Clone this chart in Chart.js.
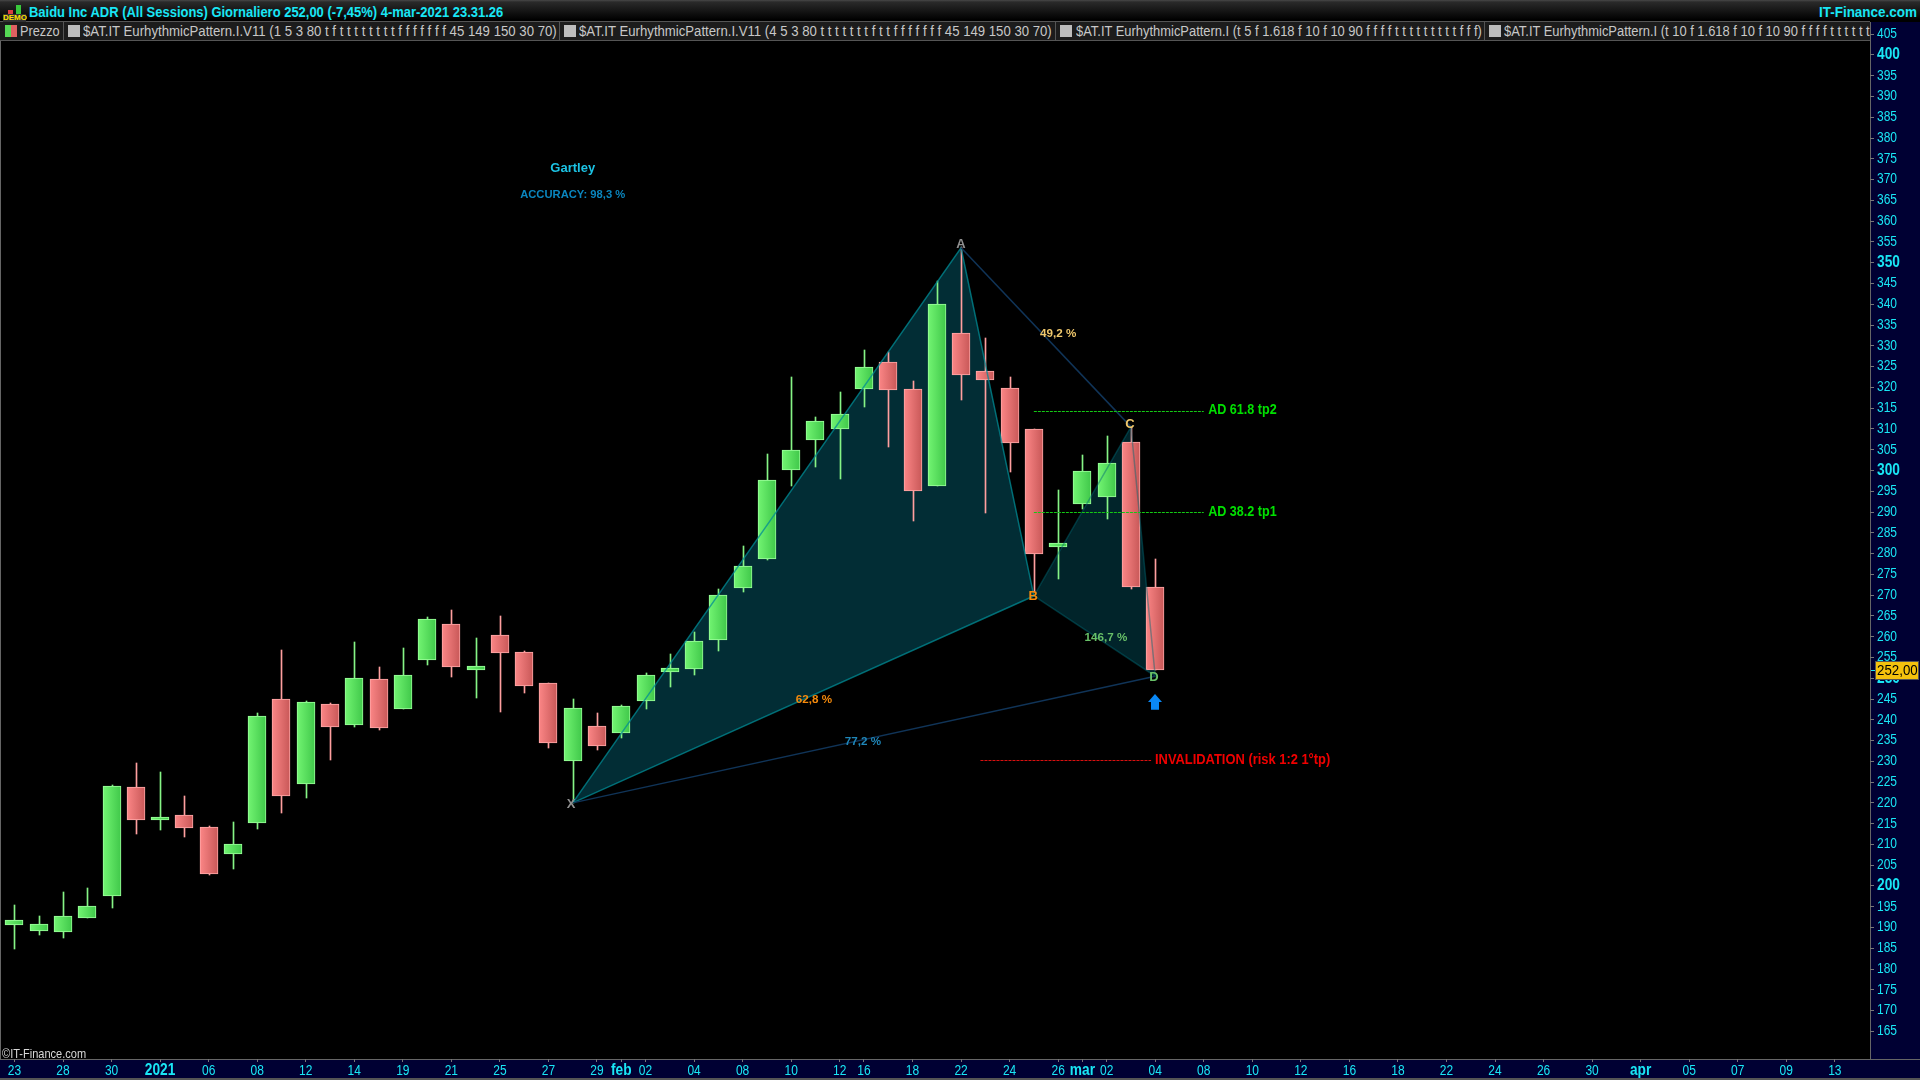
<!DOCTYPE html>
<html>
<head>
<meta charset="utf-8">
<title>Baidu Inc ADR</title>
<script src="https://cdn.jsdelivr.net/npm/chart.js@4/dist/chart.umd.js"></script>
<style>
html,body{margin:0;padding:0;background:#000;width:1920px;height:1080px;overflow:hidden}
body{position:relative;font-family:"Liberation Sans",Arial,sans-serif}
.p{position:absolute}
.t{position:absolute;white-space:nowrap;overflow:hidden;transform-origin:0 0}
.tab{top:22px;font-size:14px;line-height:18px;color:#c8c8c8}
canvas{position:absolute;left:0;top:0}
</style>
</head>
<body>
<div class="p" style="left:0;top:0;width:1920px;height:21px;background:linear-gradient(#484848 0,#2a2a2a 2px,#000 20px)"></div>
<div class="p" style="left:0;top:21px;width:1870px;height:20px;background:#1c1c1c;border-top:1px solid #555;border-bottom:1px solid #555;box-sizing:border-box"></div>
<div class="p" style="left:1870px;top:22px;width:50px;height:1058px;background:#000033;border-left:1px solid #666;box-sizing:border-box"></div>
<div class="p" style="left:0;top:1059px;width:1920px;height:21px;background:#000033;border-top:1px solid #666;border-bottom:2px solid #555;box-sizing:border-box"></div>
<div class="p" style="left:0;top:41px;width:1px;height:1018px;background:#666"></div>

<div class="p" style="left:3px;top:14px;width:23px;height:8px;background:#333"></div>
<div class="p" style="left:16px;top:5px;width:5px;height:9px;background:#39c93c"></div>
<div class="p" style="left:8px;top:10px;width:5px;height:4px;background:#d84040"></div>
<div class="t" style="left:3px;top:13px;font:bold 8px 'Liberation Sans';color:#ffe000;line-height:9px">DEMO</div>

<div class="t fit" data-w="474" style="left:29px;top:4px;font-size:14px;line-height:17px;color:#19e6f5;font-weight:bold">Baidu Inc ADR (All Sessions) Giornaliero 252,00 (-7,45%) 4-mar-2021 23.31.26</div>
<div class="t fit" data-w="98" style="left:1819px;top:3px;font:bold 14px/18px 'Liberation Sans';color:#19e6f5">IT-Finance.com</div>

<div class="p" style="left:5px;top:25px;width:6px;height:12px;background:#55d855"></div>
<div class="p" style="left:11px;top:25px;width:6px;height:12px;background:#e06060"></div>
<div class="t tab fit" data-w="40" style="left:20px">Prezzo</div>
<div class="p" style="left:63px;top:22px;width:1px;height:18px;background:#555"></div>
<div class="p" style="left:68px;top:25px;width:12px;height:12px;background:#bdbdbd"></div>
<div class="t tab fit" data-w="474" style="left:83px">$AT.IT EurhythmicPattern.I.V11 (1 5 3 80 t f t t t t t t t t f f f f f f f 45 149 150 30 70)</div>
<div class="p" style="left:559px;top:22px;width:1px;height:18px;background:#555"></div>
<div class="p" style="left:564px;top:25px;width:12px;height:12px;background:#bdbdbd"></div>
<div class="t tab fit" data-w="473" style="left:579px">$AT.IT EurhythmicPattern.I.V11 (4 5 3 80 t t t t t t t f t t f f f f f f f 45 149 150 30 70)</div>
<div class="p" style="left:1055px;top:22px;width:1px;height:18px;background:#555"></div>
<div class="p" style="left:1060px;top:25px;width:12px;height:12px;background:#bdbdbd"></div>
<div class="t tab fit" id="tab3" data-w="406" style="left:1076px">$AT.IT EurhythmicPattern.I (t 5 f 1.618 f 10 f 10 90 f f f f t t t t t t t t t f f f)</div>
<div class="p" style="left:1484px;top:22px;width:1px;height:18px;background:#555"></div>
<div class="p" style="left:1489px;top:25px;width:12px;height:12px;background:#bdbdbd"></div>
<div class="t tab" id="tab4" style="left:1504px">$AT.IT EurhythmicPattern.I (t 10 f 1.618 f 10 f 10 90 f f f f t t t t t t t t t f f f)</div>

<canvas id="c" width="1920" height="1080"></canvas>
<div class="t fit" data-w="84" style="left:2px;top:1046px;font-size:13px;line-height:15px;color:#d8d8d8">©IT-Finance.com</div>

<script>
// ---- axes ----
const xTickPos = [0,2,4,6,8,10,12,14,16,18,20,22,24,25,26,28,30,32,34,35,37,39,41,43,44,45,47,49,51,53,55,57,59,61,63,65,67,69,71,73,75];
const xTickLabels = ['23','28','30','2021','06','08','12','14','19','21','25','27','29','feb','02','04','08','10','12','16','18','22','24','26','mar','02','04','08','10','12','16','18','22','24','26','30','apr','05','07','09','13'];
const xBoldLabels = ['2021','feb','mar','apr'];
const yTickValues = [165,170,175,180,185,190,195,200,205,210,215,220,225,230,235,240,245,250,255,260,265,270,275,280,285,290,295,300,305,310,315,320,325,330,335,340,345,350,355,360,365,370,375,380,385,390,395,400,405];
const yBoldValues = [200,250,300,350,400];

// ---- price series (one entry per trading day) ----
const barOpen  = [190.7,189.25,189.0,192.4,197.7,223.8,216.0,217.1,214.2,207.8,215.2,245.0,224.6,243.8,238.8,249.8,242.7,254.5,263.1,252.1,260.4,256.3,248.9,230.2,238.5,236.7,244.6,251.6,252.3,259.3,271.8,278.8,300.2,307.4,310.0,319.7,326.1,319.6,296.3,333.1,323.95,319.9,309.9,281.7,292.0,293.5,306.9,272.0];
const barHigh  = [195.4,192.8,198.6,199.5,224.3,229.6,227.4,221.7,214.4,215.4,241.6,256.8,244.5,244.0,258.7,252.7,257.3,264.7,266.4,259.7,265.0,256.6,248.9,245.0,241.6,243.6,251.3,255.8,261.1,271.5,281.8,304.0,322.5,312.9,318.9,329.0,328.5,321.5,345.6,353.9,331.9,322.5,309.9,295.3,303.7,308.3,310.5,278.7];
const barLow   = [184.8,188.3,187.5,192.4,194.8,212.6,213.5,211.8,202.7,204.1,213.7,217.6,221.2,230.3,238.2,237.5,242.7,253.2,250.3,245.2,241.9,246.4,233.2,219.9,232.7,235.6,242.6,247.9,250.8,256.6,270.8,278.5,296.3,300.8,298.0,315.3,305.7,287.8,296.3,317.0,289.8,299.6,270.8,273.9,290.7,288.3,271.5,252.0];
const barClose = [191.8,190.85,192.8,195.2,224.1,216.0,216.6,214.0,203.0,210.1,240.9,221.7,244.3,238.3,250.1,238.1,250.8,264.3,252.8,252.9,256.1,248.2,234.3,242.8,233.8,243.3,250.8,252.5,258.96,270.0,277.0,297.7,304.9,311.9,313.6,324.9,319.4,295.1,340.1,323.0,321.8,306.7,280.0,282.55,299.9,301.8,272.0,252.0];

// ---- harmonic pattern pivots: bar number, price ----
const pivotBars   = {X:23, A:39, B:42, C:46, D:47};
const pivotPrices = {X:220.0, A:353.6, B:269.8, C:310.5, D:250.5};
const lastPrice = 252.0;

// ---- target / stop levels: price, first bar, last bar ----
const adTp2 = {price:314.3, from:42, to:49};
const adTp1 = {price:289.8, from:42, to:49};
const invalidation = {price:230.1, from:39.8, to:46.83};

// ---- text placed on the price chart (bar number, price) ----
const chartNotes = [
 {t:'Gartley', x:23, y:372.8, c:'#1cc3e4', f:'bold 13px "Liberation Sans"', a:'center', s:1},
 {t:'ACCURACY: 98,3 %', x:23, y:366.4, c:'#0a86bf', f:'bold 11px "Liberation Sans"', a:'center', s:1.02},
 {t:'49,2 %', x:43, y:332.8, c:'#f0c86c', f:'bold 11px "Liberation Sans"', a:'center', s:1.06},
 {t:'62,8 %', x:32.94, y:244.7, c:'#f58a0c', f:'bold 11px "Liberation Sans"', a:'center', s:1.06},
 {t:'77,2 %', x:34.96, y:234.6, c:'#1f86b8', f:'bold 11px "Liberation Sans"', a:'center', s:1.06},
 {t:'146,7 %', x:44.97, y:259.6, c:'#68c068', f:'bold 11px "Liberation Sans"', a:'center', s:1.06},
 {t:'A', x:39, y:354.5, c:'#909090', f:'bold 13px "Liberation Sans"', a:'center', s:1},
 {t:'B', x:41.97, y:269.8, c:'#f58a0c', f:'bold 13px "Liberation Sans"', a:'center', s:1},
 {t:'C', x:45.96, y:311.2, c:'#f0c86c', f:'bold 13px "Liberation Sans"', a:'center', s:1},
 {t:'D', x:46.95, y:250.3, c:'#68c068', f:'bold 13px "Liberation Sans"', a:'center', s:1},
 {t:'X', x:22.93, y:219.7, c:'#909090', f:'bold 13px "Liberation Sans"', a:'center', s:1},
 {t:'AD 61.8 tp2', x:49.18, y:314.6, c:'#00e000', f:'bold 15px "Liberation Sans"', a:'left', s:0.84},
 {t:'AD 38.2 tp1', x:49.18, y:290.05, c:'#00e000', f:'bold 15px "Liberation Sans"', a:'left', s:0.84},
 {t:'INVALIDATION (risk 1:2 1°tp)', x:46.99, y:230.4, c:'#f00000', f:'bold 15px "Liberation Sans"', a:'left', s:0.86}
];
const arrowMark = {x:47, top:246.2, bottom:242.4};

// ---- helpers building the library's datasets ----
const isUp = i => barClose[i] >= barOpen[i];
const wickData = barOpen.map((_, i) => ({x:i, y:[barLow[i], barHigh[i]]}));
const bodyData = barOpen.map((_, i) => ({x:i, y:[barOpen[i], barClose[i]]}));
const pt = k => ({x:pivotBars[k], y:pivotPrices[k]});
const levelLine = l => [{x:l.from, y:l.price},{x:l.to, y:l.price}];

function bodyFill(ctx){
  if (ctx.type !== 'data') return '#000';
  const i = ctx.dataIndex, s = ctx.chart.scales.x;
  const up = isUp(i);
  const cx = s ? Math.round(s.getPixelForValue(i)) : NaN;
  if (!isFinite(cx)) return up ? '#5ade5e' : '#e06f6f';
  const g = ctx.chart.ctx.createLinearGradient(cx-9,0,cx+9,0);
  if (up) { g.addColorStop(0,'#72f472'); g.addColorStop(1,'#40c84a'); }
  else { g.addColorStop(0,'#fb8686'); g.addColorStop(1,'#c85858'); }
  return g;
}

const snapPlugin = {
  id:'snap',
  beforeDatasetsDraw(chart){
    chart.data.datasets.forEach((d, di) => {
      const m = chart.getDatasetMeta(di);
      if (d.snap === 'wick' || d.snap === 'body') {
        m.data.forEach(el => {
          el.x = Math.round(el.x) + (d.snap === 'wick' ? 0.5 : 0);
          el.y = Math.round(el.y);
          el.base = Math.round(el.base);
        });
      } else if (d.snap === 'level') {
        m.data.forEach(el => { el.y = Math.floor(el.y) + 0.5; });
      }
    });
  }
};

// The reference's lettering is a narrow sans; draw canvas text horizontally condensed around its anchor.
let textSquash = 0.857;
const narrowTextPlugin = {
  id:'narrowText',
  beforeInit(chart){
    const ctx = chart.ctx, base = ctx.fillText.bind(ctx);
    ctx.fillText = (t, x, y, w) => {
      ctx.save(); ctx.translate(x, y); ctx.scale(textSquash, 1);
      base(t, 0, 0); ctx.restore();
    };
  }
};

const notesPlugin = {
  id:'notes',
  afterDatasetsDraw(chart){
    const {ctx, scales:{x, y}} = chart;
    ctx.save();
    ctx.textBaseline = 'middle';
    chartNotes.forEach(n => {
      ctx.font = n.f; ctx.fillStyle = n.c; ctx.textAlign = n.a;
      textSquash = n.s;
      ctx.fillText(n.t, x.getPixelForValue(n.x), y.getPixelForValue(n.y));
    });
    textSquash = 0.857;
    const ax = Math.round(x.getPixelForValue(arrowMark.x)), t = y.getPixelForValue(arrowMark.top), b = y.getPixelForValue(arrowMark.bottom);
    ctx.fillStyle = '#0a88f5';
    ctx.beginPath();
    ctx.moveTo(ax, t); ctx.lineTo(ax+7, t+8); ctx.lineTo(ax+4, t+8); ctx.lineTo(ax+4, b);
    ctx.lineTo(ax-4, b); ctx.lineTo(ax-4, t+8); ctx.lineTo(ax-7, t+8); ctx.closePath(); ctx.fill();
    ctx.restore();
  },
  afterDraw(chart){
    const {ctx, scales:{y}} = chart;
    const py = Math.round(y.getPixelForValue(lastPrice));
    ctx.save();
    ctx.fillStyle = '#19e6f5';
    ctx.fillRect(1871, py, 5, 1);
    ctx.fillStyle = '#f4c20d';
    ctx.fillRect(1876, py-8, 42, 17);
    ctx.strokeStyle = '#555';
    ctx.strokeRect(1875.5, py-8.5, 43, 18);
    ctx.fillStyle = '#000';
    ctx.font = '14px "Liberation Sans"';
    ctx.textAlign = 'left'; ctx.textBaseline = 'middle';
    textSquash = 0.95;
    ctx.fillText(lastPrice.toFixed(2).replace('.', ','), 1877, py+1);
    textSquash = 0.857;
    ctx.restore();
  }
};

const FONT = '"Liberation Sans",sans-serif';
const TEAL = 'rgba(0,140,150,0.75)';
const NAVY = 'rgb(16,52,88)';
const DIM  = 'rgba(0,105,115,0.45)';

const lineBase = {type:'line', pointRadius:0, borderWidth:1.5, tension:0, fill:false};

new Chart(document.getElementById('c'), {
  data:{
    datasets:[
      {...lineBase, order:20, borderWidth:0, fill:'shape', backgroundColor:'rgb(2,45,53)', data:[pt('X'),pt('A'),pt('B'),pt('X')]},
      {...lineBase, order:19, borderWidth:0, fill:'shape', backgroundColor:'rgb(1,36,42)', data:[pt('B'),pt('C'),pt('D'),pt('B')]},
      {type:'bar', order:10, snap:'wick', grouped:false, barThickness:1, data:wickData,
        backgroundColor:barOpen.map((_, i) => isUp(i) ? '#86f486' : '#ff9f9f'), borderWidth:0},
      {type:'bar', order:9, snap:'body', grouped:false, barThickness:18, data:bodyData,
        backgroundColor:bodyFill, borderWidth:1, borderSkipped:false,
        borderColor:barOpen.map((_, i) => isUp(i) ? '#9cff9c' : '#ffa8a8')},
      {...lineBase, order:5, borderColor:DIM, data:[pt('B'),pt('C'),pt('D'),pt('B')]},
      {...lineBase, order:4, borderColor:TEAL, data:[pt('X'),pt('A'),pt('B'),pt('X')]},
      {...lineBase, order:3, borderColor:NAVY, data:[pt('X'),pt('D')]},
      {...lineBase, order:3, borderColor:NAVY, data:[pt('A'),pt('C')]},
      {...lineBase, order:2, snap:'level', borderWidth:1, borderColor:'#14c814', borderDash:[3,1], data:levelLine(adTp2)},
      {...lineBase, order:2, snap:'level', borderWidth:1, borderColor:'#14c814', borderDash:[3,1], data:levelLine(adTp1)},
      {...lineBase, order:2, snap:'level', borderWidth:1, borderColor:'#d81010', borderDash:[3,1], data:levelLine(invalidation)}
    ]
  },
  options:{
    responsive:false, animation:false, devicePixelRatio:1,
    layout:{padding:{left:1, top:22, right:0, bottom:0}},
    plugins:{legend:{display:false}, tooltip:{enabled:false}, title:{display:false}},
    scales:{
      x:{
        type:'linear', offset:false, min:-0.556, max:76.45,
        afterBuildTicks(s){ s.ticks = xTickPos.map(v => ({value:v})); },
        afterFit(s){ s.height = 21; s.paddingLeft = 0; s.paddingRight = 0; },
        border:{display:false},
        grid:{offset:false, drawOnChartArea:false, drawTicks:true, tickLength:3, color:'#777'},
        ticks:{
          autoSkip:false, maxRotation:0, minRotation:0, padding:1, color:'#19e6f5',
          callback:(v, i) => xTickLabels[i],
          font:c => {
            const bold = xBoldLabels.includes(xTickLabels[c.index]);
            return {family:FONT, size: bold ? 16 : 14, weight: bold ? 'bold' : 'normal', lineHeight: bold ? 1 : 1.14};
          }
        }
      },
      y:{
        type:'linear', position:'right', min:158.36, max:407.94,
        afterBuildTicks(s){ s.ticks = yTickValues.map(v => ({value:v})); },
        afterFit(s){ s.width = 50; s.paddingTop = 0; s.paddingBottom = 0; },
        border:{display:false},
        grid:{drawOnChartArea:false, drawTicks:true, tickLength:4, color:'#777'},
        ticks:{
          autoSkip:false, padding:3, color:'#19e6f5',
          callback:v => String(v),
          font:c => {
            const bold = c.tick && yBoldValues.includes(c.tick.value);
            return {family:FONT, size: bold ? 16 : 14, weight: bold ? 'bold' : 'normal'};
          }
        }
      }
    }
  },
  plugins:[narrowTextPlugin, snapPlugin, notesPlugin]
});

// Condense the DOM captions to the widths seen in the reference.
document.querySelectorAll('.fit').forEach(el => {
  el.style.transform = 'scaleX(' + (el.dataset.w / el.offsetWidth) + ')';
});
(function(){
  const t3 = document.getElementById('tab3'), t4 = document.getElementById('tab4');
  const s = t3.dataset.w / t3.offsetWidth;
  t4.style.transform = 'scaleX(' + s + ')';
  t4.style.width = (366 / s) + 'px';
})();
</script>
</body>
</html>
